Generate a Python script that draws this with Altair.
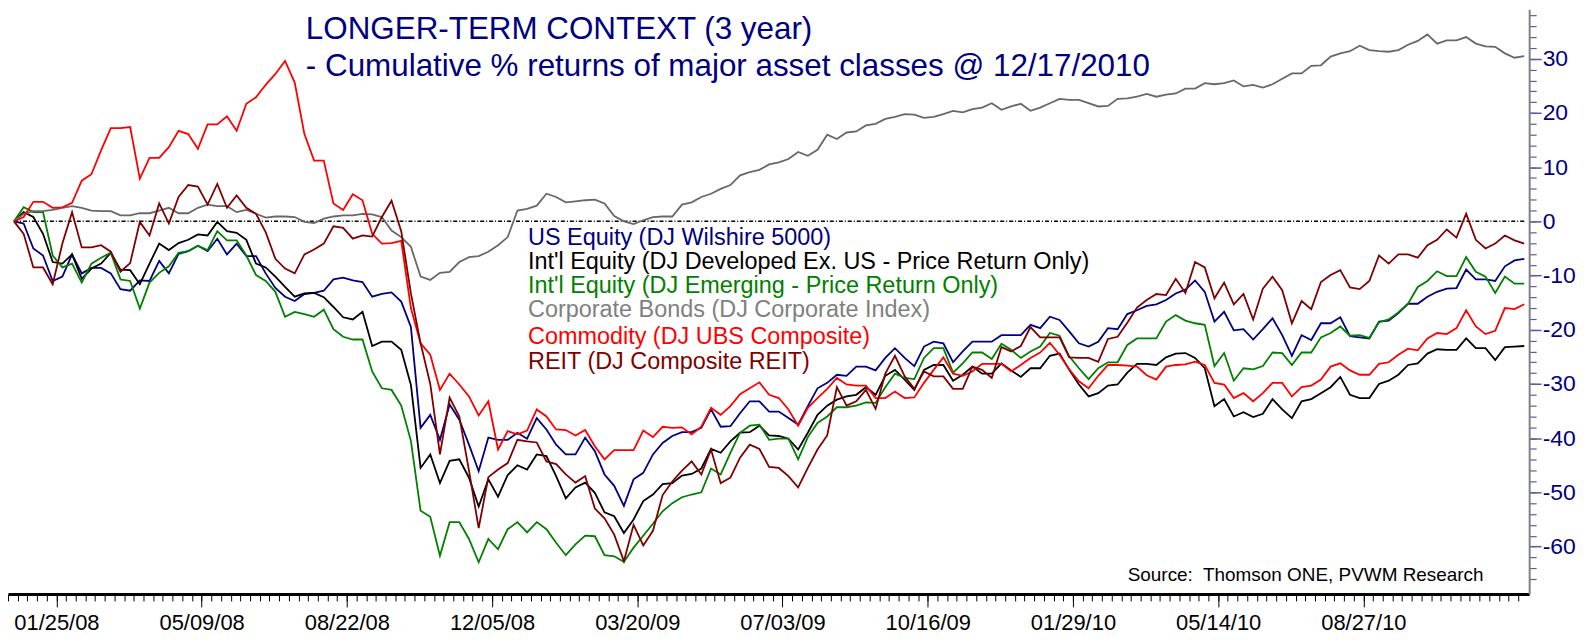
import altair as alt
import pandas as pd

# ---------------- data (weekly, 12/21/2007 .. 12/17/2010) ----------------
start_date = "2007-12-21"
n_weeks = 157

series_names = [
    "US Equity (DJ Wilshire 5000)",
    "Int'l Equity (DJ Developed Ex. US - Price Return Only)",
    "Int'l Equity (DJ Emerging - Price Return Only)",
    "Corporate Bonds (DJ Corporate Index)",
    "Commodity (DJ UBS Composite)",
    "REIT (DJ Composite REIT)",
]
series_colors = ["#000080", "#000000", "#008000", "#686868", "#ff0000", "#800000"]
legend_colors = ["#000080", "#000000", "#008000", "#808080", "#ff0000", "#800000"]

us_equity = [
    0, -0.4, -5.0, -6.3, -11.0, -10.2, -6.1, -9.6, -8.6, -8.6, -9.6, -12.5, -12.8, -10.9, -11.0, -7.3, -9.6, -6.0, -5.5, -4.5,
    -5.5, -3.2, -6.1, -4.1, -6.4, -6.4, -9.6, -12.3, -13.9, -14.7, -13.4, -13.2, -12.8, -10.7, -10.4, -10.9, -11.2, -13.9, -13.4,
    -13.1, -14.8, -19.5,
    -38.1, -35.7, -40.3, -33.8, -36.6, -41.2, -46.1, -39.9, -40.3, -40.3, -39.0, -40.1, -36.3, -38.4, -41.2, -43.0, -43.0, -39.9,
    -42.4, -46.7, -48.8, -52.5, -47.6, -46.4, -43.0, -40.9, -39.6, -38.9, -38.9, -38.1, -34.7, -37.9, -37.8, -35.4, -33.2, -33.2, -35.1,
    -35.1, -36.3, -37.5, -34.1, -30.8, -29.8, -28.3, -28.5, -26.8, -26.8, -27.5, -25.2, -23.4, -25.2, -26.7, -23.1, -22.2, -22.5,
    -26.0, -24.0, -22.2, -22.2, -22.2, -21.0, -21.0, -21.0, -19.1, -19.7, -17.6, -18.2, -20.3, -22.5, -23.1, -22.2, -19.7, -19.9,
    -17.1, -16.4, -15.6,
    -15.3, -14.5, -13.3, -12.6, -10.9, -13.0, -18.5, -16.7, -20.1, -19.9, -21.8, -19.9, -17.9, -21.0, -24.8, -21.0, -21.9, -18.8,
    -18.8, -17.7, -21.2, -21.4, -21.6, -18.5, -18.3, -16.9, -15.2, -15.2, -13.9, -13.0, -12.4, -12.3, -8.9, -10.7, -10.7, -11.0,
    -8.3, -7.2, -6.9,
]
intl_developed = [
    0, 1.7, 0.8, -2.3, -7.5, -7.8, -6.1, -10.6, -8.7, -7.8, -5.8, -8.9, -9.0, -11.6, -7.8, -4.1, -5.3, -4.0, -3.4, -2.4,
    -2.6, -0.1, -1.8, -2.1, -3.4, -7.8, -8.5, -10.2, -12.1, -13.9, -13.3, -13.2, -14.0, -15.8, -17.7, -18.1, -16.7, -23.0, -22.2,
    -22.2, -23.7, -30.2,
    -45.5, -43.0, -48.3, -44.2, -43.9, -47.3, -52.6, -47.6, -50.8, -46.8, -45.0, -45.8, -43.0, -43.3, -47.0, -51.1, -49.1, -48.2,
    -50.1, -53.7, -54.4, -57.5, -55.0, -51.6, -50.4, -48.5, -48.3, -46.9, -46.6, -45.6, -42.0, -42.7, -40.6, -39.0, -38.9, -37.7, -39.5,
    -39.6, -40.1, -42.1, -39.0, -35.7, -34.0, -32.9, -32.3, -32.0, -30.6, -32.0, -28.5, -27.4, -29.2, -31.1, -27.4, -26.5, -26.5,
    -29.4, -28.3, -26.8, -28.1, -28.1, -26.2, -27.5, -28.7, -27.1, -27.1, -24.8, -24.4, -27.4, -30.1, -32.3, -31.7, -30.3, -30.1,
    -27.9, -26.3, -26.3,
    -26.5, -25.1, -24.4, -24.3, -25.2, -27.1, -34.1, -32.8, -36.0, -35.2, -36.1, -35.5, -32.8, -34.7, -36.3, -33.2, -32.8, -31.7,
    -30.6, -28.7, -32.0, -32.6, -32.6, -30.0, -29.4, -28.3, -26.5, -26.2, -24.4, -23.6, -23.7, -23.7, -21.6, -23.4, -23.4, -25.6,
    -23.2, -23.1, -23.0,
]
intl_emerging = [
    0, 2.6, 1.7, 1.7, -6.3, -8.5, -7.8, -11.3, -7.8, -6.7, -5.8, -10.7, -11.0, -16.1, -11.3, -9.5, -8.3, -5.8, -5.5, -4.5,
    -5.3, -1.8, -3.5, -3.5, -6.3, -9.9, -11.0, -13.0, -17.6, -16.7, -17.1, -17.6, -16.3, -19.9, -21.3, -21.8, -21.8, -27.7, -30.8,
    -31.1, -34.0, -40.5,
    -53.4, -54.5, -61.7, -55.5, -55.5, -58.6, -62.9, -58.6, -60.5, -56.8, -55.5, -57.4, -55.5, -56.8, -59.3, -61.6, -59.6, -58.0,
    -58.1, -61.6, -61.8, -62.8, -60.2, -58.0, -55.8, -53.5, -52.0, -50.9, -50.4, -50.0, -45.6, -46.7, -42.7, -39.0, -37.7, -37.5, -40.3,
    -40.1, -40.1, -43.9, -39.8, -37.2, -36.0, -34.3, -34.3, -34.0, -33.4, -33.5, -30.6, -28.1, -28.9, -29.1, -25.2, -23.4, -23.4,
    -27.9, -26.2, -24.2, -24.2, -25.4, -22.6, -23.7, -25.2, -24.0, -23.1, -20.6, -21.1, -24.9, -27.1, -29.1, -27.1, -26.0, -26.0,
    -22.8, -21.6, -21.6,
    -21.6, -18.5, -17.3, -18.3, -18.8, -19.1, -26.7, -24.3, -29.4, -27.1, -27.3, -26.7, -24.2, -24.3, -26.5, -24.2, -24.2, -21.4,
    -20.6, -19.4, -21.1, -21.0, -21.5, -18.6, -18.1, -16.8, -15.2, -12.1, -11.0, -9.2, -10.1, -10.1, -6.6, -9.3, -10.2, -13.2,
    -10.2, -11.5, -11.5,
]
corporate_bonds = [
    0, 1.4, 1.9, 1.9, 2.1, 2.5, 2.8, 2.5, 2.0, 1.9, 1.9, 1.1, 1.1, 1.5, 1.5, 2.0, 2.5, 1.5, 1.5, 2.5,
    3.1, 2.8, 2.8, 1.7, 2.1, 1.4, 0.7, 0.9, 0.9, 0.8, -0.1, -0.3, 0.5, 0.9, 1.1, 1.1, 1.4, 1.3, 0.8,
    -1.7, -2.9, -4.7, -10.2, -10.8, -9.5, -9.3, -7.5, -6.6, -6.4, -5.6, -4.4, -2.9, 2.0, 2.3, 2.9, 5.1, 4.5, 3.5, 3.7,
    3.9, 4.0, 3.3, 1.0, 0.0, -0.5, 0.2, 0.8, 0.9, 0.9, 3.1, 3.5, 4.5, 5.1, 6.0, 6.7, 8.5, 9.1, 9.5, 10.5,
    10.9, 11.5, 12.8, 12.1, 13.2, 16.0, 15.2, 16.4, 16.6, 17.7, 18.0, 18.9, 19.3, 19.8, 19.7, 19.1, 19.3, 19.8, 20.4, 20.1,
    20.7, 21.0, 21.8, 20.6, 21.2, 21.7, 20.4, 21.0, 21.8, 22.6, 22.4, 22.4, 21.8, 21.2, 21.3, 22.6, 22.7, 23.0, 23.5,
    23.0, 23.4, 23.6, 24.5, 24.5, 25.5, 25.3, 25.5, 26.0, 24.9, 25.2, 24.7, 25.3, 26.3, 27.3, 27.3, 28.7, 28.8, 30.4, 31.0,
    31.4, 32.4, 31.6, 31.4, 31.3, 31.6, 32.6, 33.3, 34.5, 32.8, 33.4, 33.4, 34.0, 32.8, 32.3, 32.2, 31.0, 30.2, 30.5,
]
commodity = [
    0, 0.8, 3.6, 3.6, 2.5, 2.6, 3.4, 7.5, 8.7, 13.1, 17.2, 17.2, 17.4, 7.9, 11.7, 11.7, 13.7, 16.7, 16.1, 13.4,
    17.9, 17.9, 19.4, 16.7, 21.7, 22.9, 25.2, 27.2, 29.6, 25.6, 16.1, 11.2, 11.2, 3.3, 2.1, 5.0, 3.9, -2.3, -4.1,
    -4.0, -3.6, -16.0,
    -22.5, -24.6, -31.1, -28.1, -30.1, -32.3, -35.8, -33.2, -42.1, -38.7, -39.3, -38.6, -34.7, -36.0, -38.4, -38.5, -39.5, -38.5,
    -41.5, -43.9, -42.2, -42.2, -42.2, -38.6, -39.8, -37.9, -38.1, -38.0, -39.3, -37.9, -34.4, -35.7, -34.1, -31.9, -30.8, -29.7, -32.0,
    -32.6, -34.7, -37.7, -34.4, -32.6, -30.9, -28.9, -30.1, -30.3, -30.3, -32.6, -32.6, -31.4, -32.6, -32.5, -29.8, -27.4, -25.1,
    -28.1, -28.5, -27.7, -26.3, -26.3, -26.3, -27.7, -26.5, -25.2, -24.2, -22.4, -24.6, -27.3, -29.5, -30.8, -28.5, -26.5, -26.5,
    -26.6, -26.8, -28.4,
    -29.2, -26.8, -26.5, -26.4, -25.9, -26.5, -29.8, -30.1, -32.6, -31.7, -33.2, -31.7, -29.8, -29.8, -32.3, -30.6, -30.3, -29.2,
    -26.8, -26.2, -27.5, -28.3, -28.3, -26.3, -26.0, -24.6, -23.5, -23.8, -21.6, -20.6, -20.8, -19.7, -16.4, -19.4, -20.8, -20.2,
    -16.0, -16.2, -15.3,
]
reit = [
    0, -2.3, -8.5, -8.5, -11.6, -4.1, 1.7, -4.8, -4.8, -4.4, -5.6, -9.3, -7.7, -0.1, -2.6, 3.3, -0.4, 4.5, 6.7, 6.4,
    3.1, 6.9, 2.5, 4.8, 2.5, 1.4, -2.0, -6.9, -8.7, -9.6, -6.1, -5.2, -4.1, -0.9, -1.2, -3.2, -2.6, -2.8, 0.8,
    3.8, -1.8, -13.3, -22.5, -30.0,
    -43.0, -32.5, -36.0, -46.0, -56.6, -47.2, -45.8, -44.6, -40.3, -40.6, -40.8, -44.3, -44.8, -46.7, -48.2, -47.0, -53.0, -54.8,
    -57.8, -62.7, -56.0, -59.8, -57.1, -50.5, -48.0, -46.0, -44.3, -46.7, -42.1, -48.3, -47.3, -43.6, -41.2, -42.0, -45.3,
    -45.5, -47.0, -49.1, -45.5, -42.1, -39.5, -30.6, -34.0, -33.2, -31.1, -34.6, -28.1, -24.8, -28.6, -30.9, -27.7, -28.6, -28.6,
    -30.9, -30.9, -26.8, -27.4, -28.9, -23.2, -24.0, -23.0, -19.5, -21.4, -21.4, -21.4, -25.1, -25.2, -25.2, -25.9, -21.7, -21.3,
    -18.7, -15.9, -14.5,
    -13.4, -13.6, -10.6, -13.2, -7.5, -8.5, -14.2, -11.3, -15.3, -13.4, -18.1, -12.4, -10.2, -12.7, -18.8, -14.7, -16.2, -11.2,
    -9.9, -9.0, -12.2, -12.5, -11.0, -6.3, -7.8, -6.1, -6.1, -6.7, -4.4, -3.4, -1.5, -3.0, 1.4, -3.4, -5.0, -4.1,
    -2.6, -3.5, -4.1,
]

all_series = [us_equity, intl_developed, intl_emerging, corporate_bonds, commodity, reit]

# x axis labels (every 15 weeks) and y axis ticks
x_label_dates = ["2008-01-25", "2008-05-09", "2008-08-22", "2008-12-05", "2009-03-20",
                 "2009-07-03", "2009-10-16", "2010-01-29", "2010-05-14", "2010-08-27"]
y_major = [-60, -50, -40, -30, -20, -10, 0, 10, 20, 30]
y_minor = list(range(-66, 39, 2))

title_line1 = "LONGER-TERM CONTEXT (3 year)"
title_line2 = "- Cumulative % returns of major asset classes @ 12/17/2010"
source_text = "Source:\u00a0 Thomson ONE, PVWM Research"

# ---------------- build tables ----------------
dates = pd.date_range(start_date, periods=n_weeks, freq="7D")
rows = []
for name, vals in zip(series_names, all_series):
    assert len(vals) == n_weeks, (name, len(vals))
    for d, v in zip(dates, vals):
        rows.append({"date": d.strftime("%Y-%m-%d"), "series": name, "value": v})
df = pd.DataFrame(rows)


def dt(s, h=0, m=0):
    y, mo, d = [int(p) for p in s.split("-")]
    return alt.DateTime(year=y, month=mo, date=d, hours=h, minutes=m, utc=True)


x_domain = [dt("2007-12-16", 16, 16), dt("2010-12-20", 13, 42)]
y_domain = [-68.75, 39.15]

x_scale = alt.Scale(type="utc", domain=x_domain)
y_scale = alt.Scale(domain=y_domain, nice=False, zero=False)
color_scale = alt.Scale(domain=series_names, range=series_colors)

FONT = "Liberation Sans"
W, H = 1527, 587

major_x_axis = alt.Axis(
    values=[dt(s) for s in x_label_dates],
    labelExpr="utcFormat(datum.value, '%m/%d/%y')",
    orient="bottom", tickSize=13, tickColor="black", tickWidth=1,
    domainColor="black", domainWidth=3, labelFont=FONT, labelFontSize=22,
    labelColor="black", labelPadding=6, grid=False, title=None, tickOffset=-6,
    labelFlush=False, labelOverlap=False,
)
minor_x_axis = alt.Axis(
    values=[dt(d.strftime("%Y-%m-%d")) for d in dates], labels=False, orient="bottom",
    tickSize=7, tickColor="black", tickWidth=1, domain=False, grid=False,
    title=None, tickOffset=-6,
)
major_y_axis = alt.Axis(
    values=y_major, orient="right", tickSize=12, tickColor="#5c5c9c", tickWidth=1.5,
    domainColor="#80808c", domainWidth=2, labelFont=FONT, labelFontSize=23,
    labelColor="#000080", labelPadding=1, grid=False, title=None,
    labelExpr="'' + datum.value", labelFlush=False, labelOverlap=False,
)
minor_y_axis = alt.Axis(
    values=y_minor, orient="right", labels=False, tickSize=7, tickColor="#5c5c9c",
    tickWidth=1.2, domain=False, grid=False, title=None,
)

lines = alt.Chart(df).mark_line(strokeWidth=1.8).encode(
    x=alt.X("date:T", scale=x_scale, axis=major_x_axis),
    y=alt.Y("value:Q", scale=y_scale, axis=major_y_axis),
    color=alt.Color("series:N", scale=color_scale, legend=None),
    detail="series:N",
)

zero_df = pd.DataFrame({"d0": [dates[0].strftime("%Y-%m-%d")],
                        "d1": [dates[-1].strftime("%Y-%m-%d")], "v": [0]})
zero_line = alt.Chart(zero_df).mark_rule(
    color="black", strokeWidth=1.5, strokeDash=[4, 2, 1, 2]
).encode(
    x=alt.X("d0:T", scale=x_scale, axis=minor_x_axis),
    x2="d1:T",
    y=alt.Y("v:Q", scale=y_scale, axis=minor_y_axis),
)


def text_layer(txt, x, y, size, color):
    return alt.Chart(pd.DataFrame({"t": [txt]})).mark_text(
        align="left", baseline="alphabetic", font=FONT, fontSize=size, color=color
    ).encode(text="t:N", x=alt.value(x), y=alt.value(y))


title1 = text_layer(title_line1, 299, 30, 31.5, "#000080")
title2 = text_layer(title_line2, 299, 67, 31.5, "#000080")
legend_y = [237, 261, 285, 309, 336, 361]
legend_layers = [text_layer(n, 522, yy, 23.5, c) for n, yy, c in zip(series_names, legend_y, legend_colors)]
source = text_layer(source_text, 1124, 574, 19, "black")

chart = alt.layer(
    zero_line, lines, title1, title2, *legend_layers, source
).resolve_axis(x="independent", y="independent").properties(
    width=W, height=H,
    autosize=alt.AutoSizeParams(type="none"),
    padding={"left": 0, "top": 0, "right": 47, "bottom": 40},
    background="white",
).configure_view(strokeWidth=0)

chart.save("out.html", embed_options={"renderer": "svg", "actions": False})
